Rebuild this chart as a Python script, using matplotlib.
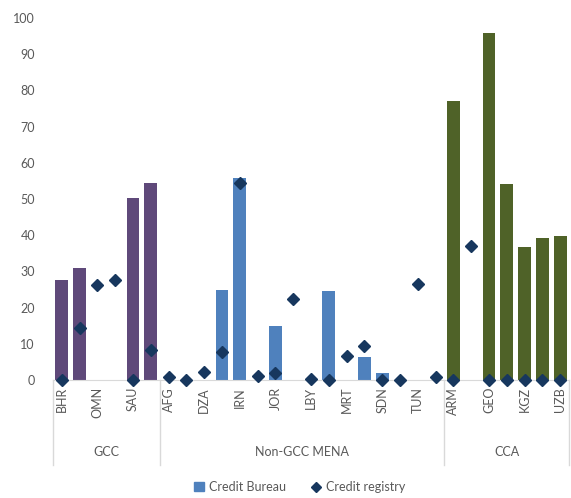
import matplotlib
matplotlib.use("Agg")
import matplotlib.pyplot as plt
from matplotlib.patches import Patch
from matplotlib.lines import Line2D

plt.rcParams['font.family'] = ['Lato', 'DejaVu Sans']

# data
countries = ['BHR', 'KWT', 'OMN', 'QAT', 'SAU', 'ARE',
             'AFG', 'DJI', 'DZA', 'EGY', 'IRN', 'IRQ', 'JOR', 'LBN', 'LBY', 'MAR',
             'MRT', 'PAK', 'SDN', 'SYR', 'TUN', 'YEM',
             'ARM', 'AZE', 'GEO', 'KAZ', 'KGZ', 'TJK', 'UZB']
groups = ['GCC', 'Non-GCC MENA', 'CCA']
group_sizes = [6, 16, 7]
credit_bureau = [27.7, 30.9, 0, 0, 50.3, 54.5,
                 0, 0, 0, 24.9, 55.7, 0, 15.0, 0, 0, 24.7,
                 0, 6.3, 2.0, 0, 0, 0,
                 77.1, 0, 95.8, 54.2, 36.8, 39.1, 39.9]
credit_registry = [0, 14.5, 26.3, 27.7, 0, 8.3,
                   0.9, 0, 2.3, 7.6, 54.5, 1.0, 2.0, 22.4, 0.4, 0,
                   6.7, 9.5, 0, 0, 26.5, 0.9,
                   0, 37.1, 0, 0, 0, 0, 0]
group_colors = ['#5F497A', '#4F81BD', '#4F6228']

text_col = '#595959'

fig = plt.figure(figsize=(5.71, 4.98), dpi=100)
ax = fig.add_axes([53 / 571, 118 / 498, 516 / 571, 362 / 498])

x = list(range(len(countries)))
start = 0
for g, n in enumerate(group_sizes):
    xs = x[start:start + n]
    ax.bar(xs, credit_bureau[start:start + n], width=0.72,
           color=group_colors[g], zorder=2)
    start += n

ax.plot(x, credit_registry, linestyle='none', marker='D', markersize=6,
        color='#17375E', zorder=3, clip_on=False)

ax.set_xlim(-0.5, len(countries) - 0.5)
ax.set_ylim(0, 100)
ax.set_yticks(range(0, 101, 10))
ax.set_xticks(x[::2])
ax.set_xticklabels(countries[::2], rotation=90)
ax.tick_params(axis='both', length=0, labelsize=9, colors=text_col)
ax.tick_params(axis='y', pad=13)
ax.tick_params(axis='x', pad=5)
for s in ['top', 'right', 'left']:
    ax.spines[s].set_visible(False)
ax.spines['bottom'].set_color('#D9D9D9')

# group separators and labels under the axis
trans = ax.get_xaxis_transform()
edges = [-0.5]
for n in group_sizes:
    edges.append(edges[-1] + n)
for e in edges:
    ax.plot([e, e], [0, -0.235], color='#D9D9D9', lw=1, transform=trans,
            clip_on=False)
for g, name in enumerate(groups):
    ax.text((edges[g] + edges[g + 1]) / 2, -0.2, name, transform=trans,
            ha='center', va='center', fontsize=9, color=text_col)

handles = [Patch(color='#4F81BD'),
           Line2D([], [], linestyle='none', marker='D', markersize=5,
                  color='#17375E')]
fig.legend(handles, ['Credit Bureau', 'Credit registry'], loc='center',
           bbox_to_anchor=(0.525, 0.022), ncol=2, frameon=False,
           fontsize=9, labelcolor=text_col, handlelength=0.8,
           handletextpad=0.4, columnspacing=2.0)

fig.savefig('out.png', dpi=100)
